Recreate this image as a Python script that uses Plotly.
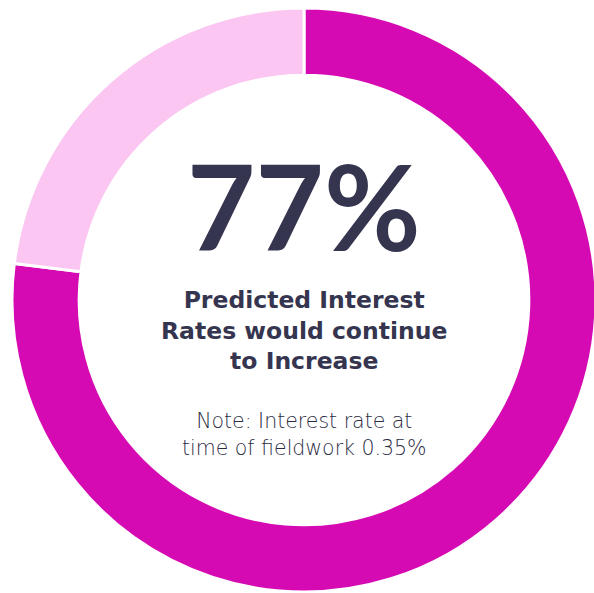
import plotly.graph_objects as go

labels = ["Would continue to increase", "Other"]
values = [77, 23]
colors = ["#d60ab3", "#fbc6f1"]

headline = "77%"
subtitle_lines = ["Predicted Interest", "Rates would continue", "to Increase"]
note_lines = ["Note: Interest rate at", "time of fieldwork 0.35%"]

text_color = "#35354f"
head_font = "Lato, sans-serif"
body_font = "'DejaVu Sans', sans-serif"

fig = go.Figure(go.Pie(
    labels=labels, values=values, hole=0.77, sort=False,
    direction="clockwise", rotation=0,
    marker=dict(colors=colors, line=dict(color="white", width=3)),
    textinfo="none", hoverinfo="label+percent", showlegend=False,
    domain=dict(x=[0, 1], y=[0, 1]),
))

fig.add_annotation(x=0.5, y=0.786, xref="paper", yref="paper", text=headline,
                   showarrow=False, font=dict(family=head_font, size=118, color=text_color, weight=700))
fig.add_annotation(x=0.5, y=0.448, xref="paper", yref="paper",
                   text="<br>".join("<b>" + s + "</b>" for s in subtitle_lines),
                   showarrow=False, font=dict(family=body_font, size=23.5, color=text_color))
fig.add_annotation(x=0.5, y=0.223, xref="paper", yref="paper", text="<br>".join(note_lines),
                   showarrow=False, font=dict(family=body_font, size=20.5, color="#2c2c44", weight=300))

fig.update_layout(width=600, height=593, margin=dict(l=12, r=4, t=8, b=1),
                  paper_bgcolor="white", plot_bgcolor="white")

fig.write_html("out.html", config={"displayModeBar": False},
               post_script="document.body.style.margin='0';document.body.style.overflow='hidden';")
